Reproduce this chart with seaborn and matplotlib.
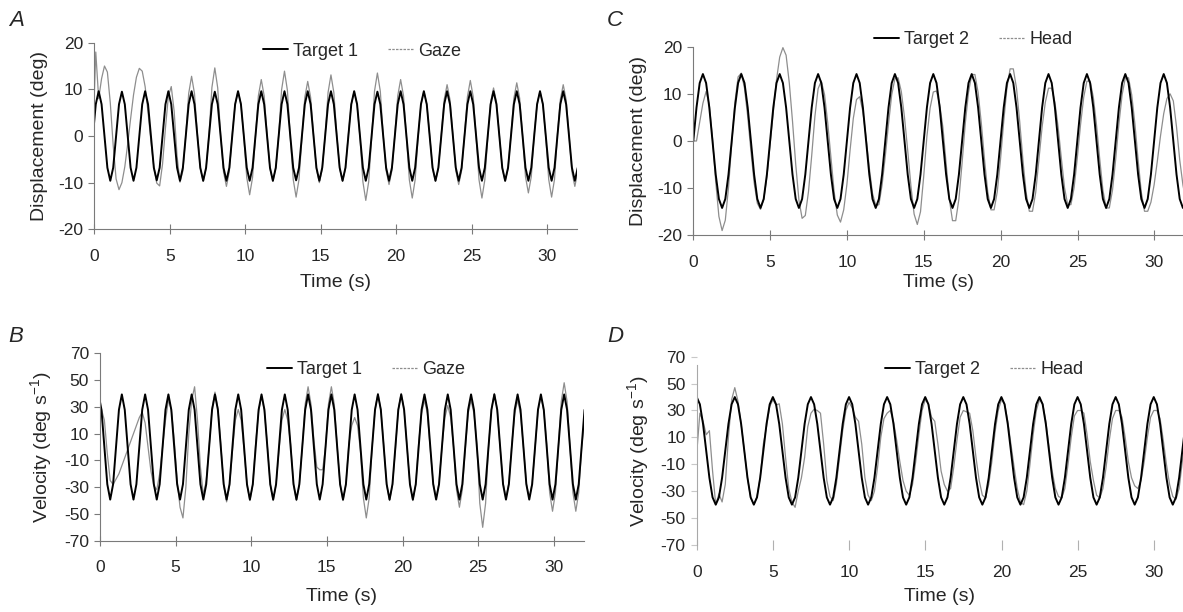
import numpy as np
import pandas as pd
import matplotlib
matplotlib.use("Agg")
import matplotlib.pyplot as plt
from matplotlib.lines import Line2D
import seaborn as sns

# ---------------- data ----------------
# Panels A/B: samples every DT_1 s starting at T0_1 (8 samples per target cycle)
T0_1, DT_1 = -0.095, 0.1924
# Panels C/D: samples every DT_2 s starting at T0_2 (12 samples per target cycle)
T0_2, DT_2 = 0.0, 0.2082

target1_disp = [
    [0.0, 6.8, 9.6, 6.8, 0.0, -6.8, -9.6, -6.8],
    [0.0, 6.8, 9.5, 6.8, 0.0, -6.8, -9.6, -6.8],
    [0.0, 6.8, 9.6, 6.8, 0.0, -6.8, -9.5, -6.8],
    [0.0, 6.8, 9.6, 6.8, 0.0, -6.8, -9.6, -6.8],
    [0.0, 6.8, 9.6, 6.8, 0.0, -6.8, -9.6, -6.8],
    [0.0, 6.8, 9.5, 6.8, 0.0, -6.8, -9.6, -6.8],
    [0.0, 6.8, 9.6, 6.8, 0.0, -6.8, -9.6, -6.8],
    [0.0, 6.8, 9.6, 6.8, 0.0, -6.8, -9.6, -6.8],
    [0.0, 6.8, 9.6, 6.8, 0.0, -6.8, -9.5, -6.8],
    [0.0, 6.8, 9.6, 6.8, 0.0, -6.8, -9.6, -6.8],
    [0.0, 6.8, 9.6, 6.8, 0.0, -6.8, -9.6, -6.8],
    [0.0, 6.8, 9.6, 6.8, 0.0, -6.8, -9.6, -6.8],
    [0.0, 6.8, 9.5, 6.8, 0.0, -6.8, -9.6, -6.8],
    [0.0, 6.8, 9.6, 6.8, 0.0, -6.8, -9.6, -6.8],
    [0.0, 6.8, 9.6, 6.8, 0.0, -6.8, -9.6, -6.8],
    [0.0, 6.8, 9.6, 6.8, 0.0, -6.8, -9.6, -6.8],
    [0.0, 6.8, 9.6, 6.8, 0.0, -6.8, -9.6, -6.8],
    [0.0, 6.8, 9.6, 6.8, 0.0, -6.8, -9.6, -6.8],
    [0.0, 6.8, 9.6, 6.8, 0.0, -6.8, -9.6, -6.8],
    [0.0, 6.8, 9.6, 6.8, 0.0, -6.8, -9.6, -6.8],
    [0.0, 6.8, 9.6, 6.8, 0.0, -6.8, -9.6, -6.8],
]
gaze_disp = [
    [0.0, 18.0, 8.0, 12.3, 15.0, 13.7, 7.1, -2.0],
    [-9.2, -11.5, -10.0, -6.6, -1.7, 3.7, 8.8, 12.6],
    [14.5, 13.9, 10.6, 5.1, -1.1, -6.6, -10.1, -10.7],
    [-6.0, 1.7, 8.5, 10.6, 5.3, -4.3, -9.9, -7.5],
    [0.2, 9.1, 12.8, 9.1, 0.4, -6.9, -9.7, -6.9],
    [0.3, 10.4, 14.6, 10.3, 0.2, -7.7, -10.8, -7.6],
    [0.4, 6.8, 9.6, 6.9, -0.2, -8.9, -12.6, -8.9],
    [-0.3, 8.6, 12.1, 8.6, 0.3, -6.9, -9.7, -6.9],
    [0.2, 9.9, 13.9, 9.8, -0.3, -9.3, -13.1, -9.3],
    [-0.4, 8.3, 11.7, 8.3, 0.2, -7.1, -10.0, -7.1],
    [0.1, 9.3, 13.1, 9.3, 0.3, -6.9, -9.7, -6.9],
    [0.3, 6.8, 9.6, 6.8, -0.3, -9.8, -13.8, -9.8],
    [-0.5, 9.6, 13.5, 9.6, 0.2, -7.4, -10.4, -7.4],
    [0.2, 8.6, 12.1, 8.6, -0.2, -9.4, -13.3, -9.4],
    [-0.4, 6.8, 9.6, 6.8, 0.2, -6.9, -9.7, -6.9],
    [0.3, 7.8, 11.0, 7.8, 0.1, -7.4, -10.4, -7.4],
    [0.2, 8.4, 11.9, 8.4, -0.2, -9.4, -13.3, -9.4],
    [-0.4, 7.3, 10.3, 7.3, 0.2, -6.9, -9.7, -6.9],
    [0.3, 8.1, 11.4, 8.1, 0.1, -8.7, -12.2, -8.7],
    [0.2, 6.8, 9.6, 6.8, -0.3, -9.3, -13.1, -9.3],
    [0.3, 7.8, 11.0, 7.8, 0.2, -7.7, -10.8, -7.7],
]
target1_vel = [
    [39.3, 27.8, 0.0, -27.8, -39.3, -27.8, 0.0, 27.8],
    [39.3, 27.8, 0.0, -27.8, -39.3, -27.8, 0.0, 27.8],
    [39.3, 27.8, 0.0, -27.8, -39.3, -27.8, 0.0, 27.8],
    [39.3, 27.8, 0.0, -27.8, -39.3, -27.8, 0.0, 27.8],
    [39.3, 27.8, 0.0, -27.8, -39.3, -27.8, 0.0, 27.8],
    [39.3, 27.8, 0.0, -27.8, -39.3, -27.8, 0.0, 27.8],
    [39.3, 27.8, 0.0, -27.8, -39.3, -27.8, 0.0, 27.8],
    [39.3, 27.8, 0.0, -27.8, -39.3, -27.8, 0.0, 27.8],
    [39.3, 27.8, 0.0, -27.8, -39.3, -27.8, 0.0, 27.8],
    [39.3, 27.8, 0.0, -27.8, -39.3, -27.8, 0.0, 27.8],
    [39.3, 27.8, 0.0, -27.8, -39.3, -27.8, 0.0, 27.8],
    [39.3, 27.8, 0.0, -27.8, -39.3, -27.8, 0.0, 27.8],
    [39.3, 27.8, 0.0, -27.8, -39.3, -27.8, 0.0, 27.8],
    [39.3, 27.8, 0.0, -27.8, -39.3, -27.8, 0.0, 27.8],
    [39.3, 27.8, 0.0, -27.8, -39.3, -27.8, 0.0, 27.8],
    [39.3, 27.8, 0.0, -27.8, -39.3, -27.8, 0.0, 27.8],
    [39.3, 27.8, 0.0, -27.8, -39.3, -27.8, 0.0, 27.8],
    [39.3, 27.8, 0.0, -27.8, -39.3, -27.8, 0.0, 27.8],
    [39.3, 27.8, 0.0, -27.8, -39.3, -27.8, 0.0, 27.8],
    [39.3, 27.8, 0.0, -27.8, -39.3, -27.8, 0.0, 27.8],
    [39.3, 27.8, 0.0, -27.8, -39.3, -27.8, 0.0, 27.8],
]
gaze_vel = [
    [0, 28, 20, -5, -25, -28, -24, -20],
    [-14, -8, -2, 4, 10, 16, 22, 26],
    [18, 0, -18, -29, -32, -20, 0, 20],
    [35, 28, 5, -25, -45, -53, -30, 10],
    [35, 45, 20, -15, -36, -25, 0, 29],
    [41, 29, 2, -29, -41, -29, -3, 20],
    [28, 20, -2, -28, -40, -28, 3, 27],
    [38, 27, 1, -28, -40, -28, -2, 20],
    [28, 20, 2, -28, -40, -28, 0, 32],
    [45, 32, 5, -15, -17, -17, 0, 32],
    [45, 32, 0, -28, -40, -28, 2, 16],
    [22, 16, -3, -38, -53, -38, 0, 28],
    [40, 28, 1, -28, -40, -28, -2, 28],
    [40, 28, 0, -28, -40, -28, 3, 25],
    [35, 25, -2, -27, -38, -27, 0, 22],
    [31, 22, 0, -32, -45, -32, -2, 25],
    [35, 25, 2, -42, -60, -42, 0, 28],
    [40, 28, -1, -27, -38, -27, 2, 25],
    [35, 25, 0, -27, -38, -27, -1, 27],
    [38, 27, 2, -34, -48, -34, 0, 34],
    [48, 34, 0, -34, -48, -34, 0, 20],
]
target2_disp = [
    [0.0, 7.1, 12.3, 14.2, 12.3, 7.1, 0.0, -7.1, -12.3, -14.2, -12.3, -7.1],
    [0.0, 7.1, 12.3, 14.2, 12.3, 7.1, 0.0, -7.1, -12.3, -14.2, -12.3, -7.1],
    [0.0, 7.1, 12.3, 14.2, 12.3, 7.1, 0.0, -7.1, -12.3, -14.2, -12.3, -7.1],
    [0.0, 7.1, 12.3, 14.2, 12.3, 7.1, 0.0, -7.1, -12.3, -14.2, -12.3, -7.1],
    [0.0, 7.1, 12.3, 14.2, 12.3, 7.1, 0.0, -7.1, -12.3, -14.2, -12.3, -7.1],
    [0.0, 7.1, 12.3, 14.2, 12.3, 7.1, 0.0, -7.1, -12.3, -14.2, -12.3, -7.1],
    [0.0, 7.1, 12.3, 14.2, 12.3, 7.1, 0.0, -7.1, -12.3, -14.2, -12.3, -7.1],
    [0.0, 7.1, 12.3, 14.2, 12.3, 7.1, 0.0, -7.1, -12.3, -14.2, -12.3, -7.1],
    [0.0, 7.1, 12.3, 14.2, 12.3, 7.1, 0.0, -7.1, -12.3, -14.2, -12.3, -7.1],
    [0.0, 7.1, 12.3, 14.2, 12.3, 7.1, 0.0, -7.1, -12.3, -14.2, -12.3, -7.1],
    [0.0, 7.1, 12.3, 14.2, 12.3, 7.1, 0.0, -7.1, -12.3, -14.2, -12.3, -7.1],
    [0.0, 7.1, 12.3, 14.2, 12.3, 7.1, 0.0, -7.1, -12.3, -14.2, -12.3, -7.1],
    [0.0, 7.1, 12.3, 14.2, 12.3, 7.1, 0.0, -7.1, -12.3, -14.2, -12.3, -7.1],
]
head_disp = [
    [0.0, 0.0, 4.0, 8.0, 10.5, 7.7, 0.5, -8.6, -16.0, -19.0, -16.8, -9.9],
    [-0.6, 8.2, 13.6, 14.4, 11.2, 5.2, -2.1, -8.8, -13.2, -14.5, -12.4, -7.6],
    [-0.8, 6.2, 13.0, 17.8, 19.8, 18.2, 12.3, 4.2, -4.9, -12.5, -16.4, -15.8],
    [-10.7, -3.1, 5.2, 11.1, 12.7, 9.9, 3.9, -3.4, -10.7, -15.7, -17.2, -14.6],
    [-9.2, -1.9, 4.8, 8.8, 9.4, 6.2, 0.7, -5.7, -11.1, -13.7, -13.5, -9.3],
    [-3.2, 3.6, 9.8, 13.2, 13.4, 10.5, 5.0, -2.0, -9.5, -15.5, -17.7, -15.0],
    [-7.5, 1.0, 7.0, 10.4, 10.6, 7.7, 2.9, -4.6, -12.3, -16.9, -16.9, -12.3],
    [-4.6, 3.8, 10.3, 14.1, 14.1, 10.3, 3.8, -3.9, -10.7, -14.6, -14.6, -10.7],
    [-3.9, 4.1, 11.2, 15.3, 15.3, 11.2, 4.1, -4.0, -10.9, -14.9, -14.9, -10.9],
    [-4.0, 3.0, 8.2, 11.2, 11.2, 8.2, 3.0, -3.6, -9.9, -13.5, -13.5, -9.9],
    [-3.6, 3.4, 9.3, 12.7, 12.7, 9.3, 3.4, -3.8, -10.4, -14.2, -14.2, -10.4],
    [-3.8, 3.6, 9.8, 13.4, 13.4, 9.8, 3.6, -4.0, -10.9, -14.9, -14.9, -13.0],
    [-9.3, -4.3, 1.1, 5.8, 9.0, 10.0, 8.5, 3.0, -4.0, -9.3, -13.0, -14.0],
]
target2_vel = [
    [40, 34.6, 20, 0, -20, -34.6, -40, -34.6, -20, 0, 20, 34.6],
    [40, 34.6, 20, 0, -20, -34.6, -40, -34.6, -20, 0, 20, 34.6],
    [40, 34.6, 20, 0, -20, -34.6, -40, -34.6, -20, 0, 20, 34.6],
    [40, 34.6, 20, 0, -20, -34.6, -40, -34.6, -20, 0, 20, 34.6],
    [40, 34.6, 20, 0, -20, -34.6, -40, -34.6, -20, 0, 20, 34.6],
    [40, 34.6, 20, 0, -20, -34.6, -40, -34.6, -20, 0, 20, 34.6],
    [40, 34.6, 20, 0, -20, -34.6, -40, -34.6, -20, 0, 20, 34.6],
    [40, 34.6, 20, 0, -20, -34.6, -40, -34.6, -20, 0, 20, 34.6],
    [40, 34.6, 20, 0, -20, -34.6, -40, -34.6, -20, 0, 20, 34.6],
    [40, 34.6, 20, 0, -20, -34.6, -40, -34.6, -20, 0, 20, 34.6],
    [40, 34.6, 20, 0, -20, -34.6, -40, -34.6, -20, 0, 20, 34.6],
    [40, 34.6, 20, 0, -20, -34.6, -40, -34.6, -20, 0, 20, 34.6],
    [40, 34.6, 20, 0, -20, -34.6, -40, -34.6, -20, 0, 20, 34.6],
]
head_vel = [
    [-2, 28, 22, 12, 15, -15, -40, -32, -38, -25, 10, 38],
    [47, 37, 20, 0, -20, -35, -40, -34, -20, 5, 18, 33],
    [38, 34, 35, 20, -5, -28, -38, -42, -30, -20, -5, 18],
    [28, 31, 30, 28, 5, -22, -34, -37, -25, -5, 15, 30],
    [36, 32, 25, 22, 5, -20, -33, -37, -30, -12, 10, 24],
    [28, 30, 22, 8, -8, -22, -30, -33, -25, -8, 12, 30],
    [38, 35, 25, 22, 5, -15, -25, -30, -28, -12, 8, 25],
    [30, 29, 28, 15, -5, -22, -33, -35, -25, -8, 14, 30],
    [38, 35, 22, 5, -12, -28, -38, -40, -30, -10, 12, 30],
    [38, 35, 22, 3, -15, -28, -34, -35, -28, -10, 10, 26],
    [30, 30, 28, 12, -8, -22, -33, -35, -28, -12, 8, 24],
    [30, 30, 25, 10, -8, -20, -26, -28, -22, -8, 10, 25],
    [30, 30, 24, 8, -10, -25, -34, -36, -28, -8, 10, 25],
]

x_ticks = [0, 5, 10, 15, 20, 25, 30]
disp_ticks = [-20, -10, 0, 10, 20]
vel_ticks = [-70, -50, -30, -10, 10, 30, 50, 70]

# ---------------- styling ----------------
sns.set_style("ticks")
plt.rcParams["font.family"] = ["Liberation Sans", "DejaVu Sans"]
plt.rcParams["mathtext.fontset"] = "custom"
plt.rcParams["mathtext.rm"] = "Liberation Sans"
plt.rcParams["mathtext.it"] = "Liberation Sans:italic"
plt.rcParams["axes.unicode_minus"] = False

W, H = 1183, 612
fig = plt.figure(figsize=(W / 100, H / 100), dpi=100)

def frame(px_left, px_top, px_right, px_bottom):
    return [px_left / W, 1 - px_bottom / H, (px_right - px_left) / W, (px_bottom - px_top) / H]

TARGET_C = "black"
RESP_C = "#8e8e8e"
SPINE_C = "#7a7a7a"

panels = [
    dict(key="A", rect=frame(94.3, 42.7, 577.2, 229.3), t0=T0_1, dt=DT_1,
         target=target1_disp, resp=gaze_disp, ylim=(-20, 20), yticks=disp_ticks,
         xlim=(0, 32), ylabel="Displacement (deg)", tname="Target 1", rname="Gaze",
         letter=(17, 20), leg=(362, 51), xlabpad=7),
    dict(key="B", rect=frame(100, 353.3, 584, 540.7), t0=T0_1, dt=DT_1,
         target=target1_vel, resp=gaze_vel, ylim=(-70, 70), yticks=vel_ticks,
         xlim=(0, 32), ylabel="Velocity (deg s$^{-1}$)", tname="Target 1", rname="Gaze",
         letter=(16, 336), leg=(366, 370), xlabpad=9),
    dict(key="C", rect=frame(693.3, 46.7, 1183, 235.3), t0=T0_2, dt=DT_2,
         target=target2_disp, resp=head_disp, ylim=(-20, 20), yticks=disp_ticks,
         xlim=(0, 31.86), ylabel="Displacement (deg)", tname="Target 2", rname="Head",
         letter=(615, 20), leg=(973, 40), xlabpad=3),
    dict(key="D", rect=frame(696.7, 356.7, 1183, 545), t0=T0_2, dt=DT_2,
         target=target2_vel, resp=head_vel, ylim=(-70, 70), yticks=vel_ticks,
         xlim=(0, 31.9), ylabel="Velocity (deg s$^{-1}$)", tname="Target 2", rname="Head",
         letter=(615, 336), leg=(984, 370), xlabpad=6),
]

for p in panels:
    ax = fig.add_axes(p["rect"])
    tgt = np.ravel(np.array(p["target"], dtype=float))
    rsp = np.ravel(np.array(p["resp"], dtype=float))
    t = p["t0"] + p["dt"] * np.arange(len(tgt))
    df = pd.DataFrame({"time": t, "target": tgt, "response": rsp})
    sns.lineplot(data=df, x="time", y="response", ax=ax, color=RESP_C,
                 linewidth=0.9, estimator=None, sort=False, legend=False)
    sns.lineplot(data=df, x="time", y="target", ax=ax, color=TARGET_C,
                 linewidth=1.4, estimator=None, sort=False, legend=False)

    ax.set_xlim(*p["xlim"])
    ax.set_ylim(*p["ylim"])
    ax.set_xticks(x_ticks)
    ax.set_yticks(p["yticks"])
    sns.despine(ax=ax)
    for s in ("left", "bottom"):
        ax.spines[s].set_color(SPINE_C)
        ax.spines[s].set_linewidth(0.8)
    ax.tick_params(axis="y", direction="out", length=4, width=0.8, color=SPINE_C,
                   labelsize=12.5, pad=4)
    ax.tick_params(axis="x", direction="inout", length=6.5, width=0.8, color=SPINE_C,
                   labelsize=12.5, pad=11)
    ax.set_xlabel("Time (s)", fontsize=14, labelpad=p["xlabpad"])
    ax.set_ylabel(p["ylabel"], fontsize=14, labelpad=7)
    ax.patch.set_alpha(0)

    if p["key"] == "D":
        ax.spines["bottom"].set_visible(False)
        ax.spines["left"].set_bounds(-70, 64)
        ax.spines["left"].set_color("#a8a8a8")
        ax.tick_params(axis="x", color="#b0b0b0")
        ax.tick_params(axis="y", color="#c8c8c8")

    fig.text(p["letter"][0] / W, 1 - p["letter"][1] / H, p["key"], fontsize=16,
             style="italic", ha="center", va="center")

    handles = [Line2D([], [], color=TARGET_C, lw=1.4),
               Line2D([], [], color=RESP_C, lw=0.9, linestyle=(0, (2, 1)))]
    fig.legend(handles, [p["tname"], p["rname"]], loc="center",
               bbox_to_anchor=(p["leg"][0] / W, 1 - p["leg"][1] / H), ncol=2,
               frameon=False, fontsize=13, handlelength=1.4, handletextpad=0.25,
               columnspacing=1.7, borderpad=0.1)

fig.savefig("out.png", dpi=100)
